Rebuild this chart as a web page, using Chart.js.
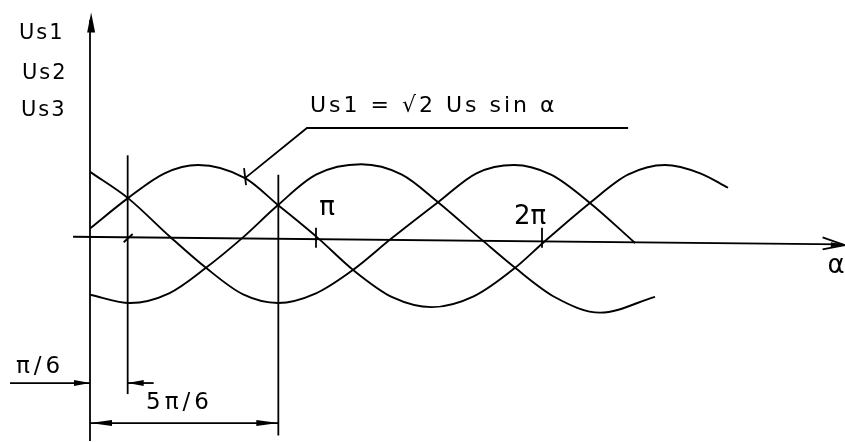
<!DOCTYPE html>
<html>
<head>
<meta charset="utf-8">
<script src="https://cdn.jsdelivr.net/npm/chart.js@4/dist/chart.umd.min.js"></script>
<style>
  html, body { margin: 0; padding: 0; background: #fff; }
  #wrap { width: 845px; height: 442px; }
</style>
</head>
<body>
<div id="wrap"><canvas id="myChart" width="845" height="442"></canvas></div>
<script>
// alpha in units of pi, value in units of the peak (sqrt2 Us)
var us1Alpha = [0, 0.168, 0.33, 0.478, 0.686, 0.832, 1.009, 1.164, 1.34, 1.513, 1.70, 1.881, 2.004, 2.212, 2.38, 2.544, 2.70, 2.823];
var us1Value = [0.08, 0.52, 0.88, 1.0, 0.81, 0.42, -0.06, -0.52, -0.92, -1.06, -0.90, -0.49, -0.13, 0.45, 0.86, 1.0, 0.88, 0.67];

var us2Alpha = [0, 0.177, 0.35, 0.513, 0.673, 0.832, 1.0, 1.20, 1.38, 1.54, 1.739, 1.881, 2.06, 2.257, 2.5];
var us2Value = [-0.88, -1.0, -0.86, -0.49, -0.06, 0.42, 0.86, 1.01, 0.86, 0.46, -0.10, -0.49, -0.92, -1.14, -0.91];

var us3Alpha = [0, 0.168, 0.354, 0.513, 0.68, 0.832, 1.0, 1.164, 1.332, 1.54, 1.71, 1.876, 2.04, 2.212, 2.412];
var us3Value = [0.90, 0.52, -0.04, -0.49, -0.88, -1.0, -0.86, -0.52, -0.07, 0.46, 0.88, 1.0, 0.86, 0.45, -0.13];

var axisTicks = [1, 2];
var axisTickLabels = ['π', '2π'];
var seriesLabels = ['Us1', 'Us2', 'Us3'];
var formulaText = 'Us1 = √2 Us sin α';

function toPoints(xs, ys) {
  return xs.map(function(x, i) { return { x: x, y: ys[i] }; });
}

function arrowHead(ctx, x, y, dx, dy, len, half) {
  var n = Math.sqrt(dx * dx + dy * dy);
  dx /= n; dy /= n;
  ctx.beginPath();
  ctx.moveTo(x, y);
  ctx.lineTo(x - dx * len - dy * half, y - dy * len + dx * half);
  ctx.lineTo(x - dx * len + dy * half, y - dy * len - dx * half);
  ctx.closePath();
  ctx.fill();
}

function line(ctx, x1, y1, x2, y2) {
  ctx.beginPath();
  ctx.moveTo(x1, y1);
  ctx.lineTo(x2, y2);
  ctx.stroke();
}

var sketchPlugin = {
  id: 'sketch',
  beforeDatasetsDraw: function(chart) {
    var ctx = chart.ctx;
    var px = function(v) { return chart.scales.x.getPixelForValue(v); };
    var py = function(v) { return chart.scales.y.getPixelForValue(v); };
    ctx.save();
    ctx.strokeStyle = '#000';
    ctx.fillStyle = '#000';
    ctx.lineWidth = 1.8;

    // alpha axis, open arrow at the end
    line(ctx, px(-0.075), py(-0.04), px(3.33), py(-0.15));
    ctx.beginPath();
    ctx.moveTo(px(3.33) - 20, py(-0.15) - 7);
    ctx.lineTo(px(3.34), py(-0.16));
    ctx.lineTo(px(3.33) - 20, py(-0.15) + 5);
    ctx.stroke();
    arrowHead(ctx, px(3.34), py(-0.16), 1, 0.02, 14, 2.5);

    // U axis
    line(ctx, px(0), py(-3.0), px(0), py(3.1));
    arrowHead(ctx, px(0.005), py(3.21), 0, -1, 20, 4);

    // ticks on the alpha axis
    axisTicks.forEach(function(t) {
      line(ctx, px(t), py(0.09), px(t), py(-0.2));
    });
    line(ctx, px(1 / 6) - 4, py(-0.12), px(1 / 6) + 5, py(0.0));

    // dimension lines
    line(ctx, px(1 / 6), py(1.14), px(1 / 6), py(-2.32));
    line(ctx, px(5 / 6), py(0.86), px(5 / 6), py(-2.92));
    var yDim1 = py(-2.16), yDim2 = py(-2.74);
    line(ctx, 10, yDim1, px(0), yDim1);
    arrowHead(ctx, px(0), yDim1, 1, 0, 16, 3);
    line(ctx, px(1 / 6), yDim1, px(1 / 6) + 26, yDim1);
    arrowHead(ctx, px(1 / 6), yDim1, -1, 0, 16, 3);
    line(ctx, px(0), yDim2, px(5 / 6), yDim2);
    arrowHead(ctx, px(0), yDim2, -1, 0, 22, 3);
    arrowHead(ctx, px(5 / 6), yDim2, 1, 0, 22, 3);

    // leader for the formula
    ctx.beginPath();
    ctx.moveTo(px(0.686), py(0.81));
    ctx.lineTo(px(0.96), py(1.536));
    ctx.lineTo(px(2.381), py(1.536));
    ctx.stroke();
    line(ctx, px(0.686) - 1, py(0.81) - 10, px(0.686) + 1, py(0.81) + 7);

    // texts
    ctx.textBaseline = 'middle';
    ctx.textAlign = 'left';
    ctx.font = '21px "DejaVu Sans"';
    ctx.letterSpacing = '2px';
    ctx.fillText(seriesLabels[0], 19, 34);
    ctx.fillText(seriesLabels[1], 22, 74);
    ctx.fillText(seriesLabels[2], 21, 111);
    ctx.font = '22px "DejaVu Sans"';
    ctx.letterSpacing = '3px';
    ctx.fillText(formulaText, 310, 106);
    ctx.font = '23px "DejaVu Sans"';
    ctx.letterSpacing = '4px';
    ctx.fillText('π/6', 16, 367);
    ctx.fillText('5π/6', 146, 403);
    ctx.letterSpacing = '0px';

    ctx.font = '26px "DejaVu Sans"';
    ctx.textAlign = 'center';
    ctx.fillText(axisTickLabels[0], px(axisTicks[0]) + 11, 208);
    ctx.fillText(axisTickLabels[1], px(axisTicks[1]) - 12, 217);
    ctx.fillText('α', 836, 266);
    ctx.restore();
  }
};

var curveStyle = {
  showLine: true,
  borderColor: '#000',
  borderWidth: 1.9,
  pointRadius: 0,
  cubicInterpolationMode: 'monotone',
  fill: false,
  clip: false
};

var ctx = document.getElementById('myChart');
var myChart = new Chart(ctx, {
  type: 'scatter',
  data: {
    datasets: [
      Object.assign({ label: seriesLabels[0], data: toPoints(us1Alpha, us1Value) }, curveStyle),
      Object.assign({ label: seriesLabels[1], data: toPoints(us2Alpha, us2Value) }, curveStyle),
      Object.assign({ label: seriesLabels[2], data: toPoints(us3Alpha, us3Value) }, curveStyle)
    ]
  },
  options: {
    responsive: false,
    animation: false,
    layout: { padding: 0 },
    plugins: { legend: { display: false }, tooltip: { enabled: false } },
    scales: {
      x: { type: 'linear', display: false, min: -90 / 226, max: 755 / 226 },
      y: { type: 'linear', display: false, min: -208 / 69, max: 234 / 69 }
    }
  },
  plugins: [sketchPlugin]
});
</script>
</body>
</html>
